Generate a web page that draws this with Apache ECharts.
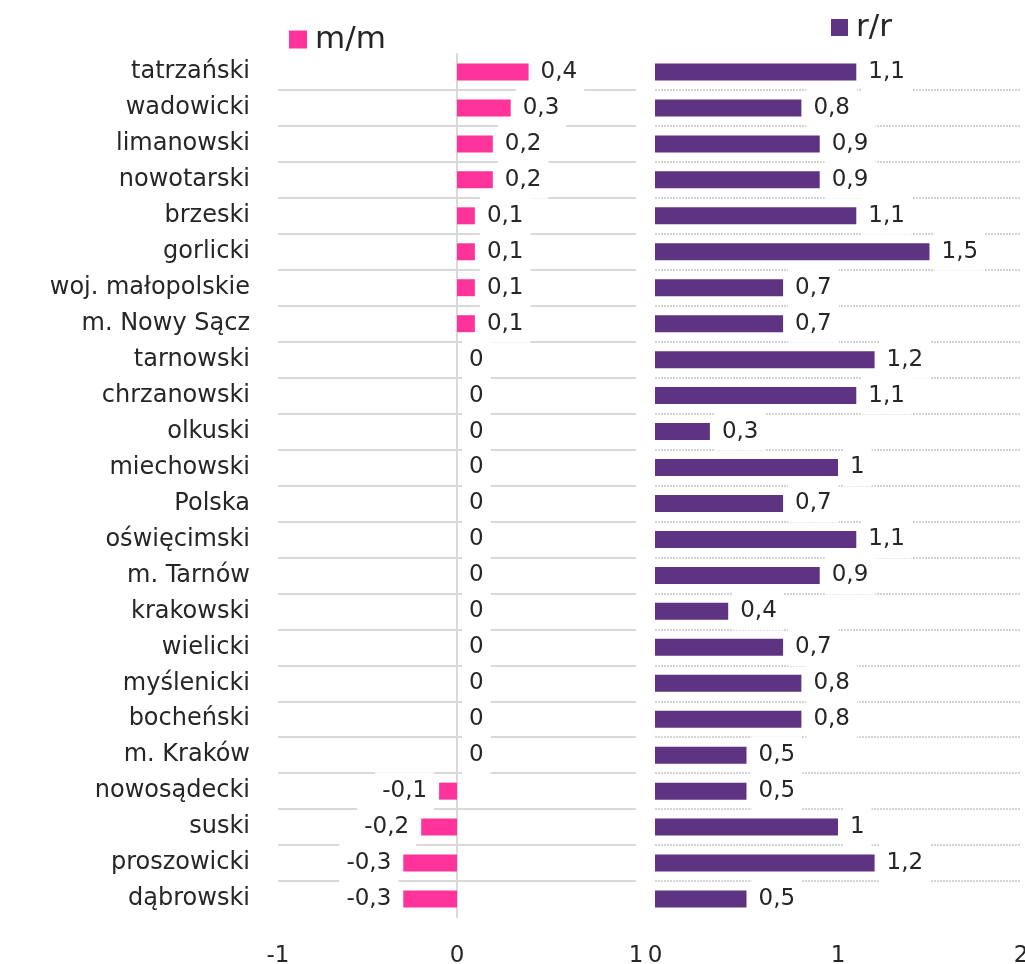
<!DOCTYPE html>
<html>
<head>
<meta charset="utf-8">
<script src="https://cdn.jsdelivr.net/npm/echarts@6/dist/echarts.min.js"></script>
<style>
  html, body { margin: 0; padding: 0; background: #fff; }
  #chart { width: 1025px; height: 964px; }
</style>
</head>
<body>
<div id="chart"></div>
<script>
const categories = [
  'tatrzański', 'wadowicki', 'limanowski', 'nowotarski', 'brzeski', 'gorlicki',
  'woj. małopolskie', 'm. Nowy Sącz', 'tarnowski', 'chrzanowski', 'olkuski',
  'miechowski', 'Polska', 'oświęcimski', 'm. Tarnów', 'krakowski', 'wielicki',
  'myślenicki', 'bocheński', 'm. Kraków', 'nowosądecki', 'suski', 'proszowicki',
  'dąbrowski'
]
const mmValues = [0.4, 0.3, 0.2, 0.2, 0.1, 0.1, 0.1, 0.1, 0, 0, 0, 0, 0, 0, 0, 0, 0, 0, 0, 0, -0.1, -0.2, -0.3, -0.3]
const rrValues = [1.1, 0.8, 0.9, 0.9, 1.1, 1.5, 0.7, 0.7, 1.2, 1.1, 0.3, 1, 0.7, 1.1, 0.9, 0.4, 0.7, 0.8, 0.8, 0.5, 0.5, 1, 1.2, 0.5]
const mmTicks = [-1, 0, 1]
const rrTicks = [0, 1, 2]

const font = 'DejaVu Sans'
const textColor = '#262626'
const pink = '#ff3399'
const purple = '#5e3381'

const fmt = (v) => String(v).replace('.', ',')

const valueLabel = {
  show: true,
  position: 'right',
  distance: 5,
  color: textColor,
  fontFamily: font,
  fontSize: 23,
  lineHeight: 22,
  padding: [8, 7],
  backgroundColor: '#fff',
  formatter: (p) => fmt(p.value)
}

const legendText = { fontFamily: font, fontSize: 31, color: textColor, padding: [0, 0, 0, 3] }
const tickLabel = { fontFamily: font, fontSize: 23, color: textColor, margin: 28 }

const chart = echarts.init(document.getElementById('chart'))
chart.setOption({
  animation: false,
  legend: [{
    data: ['m/m'],
    left: 289,
    top: 24,
    padding: 0,
    icon: 'rect',
    itemWidth: 18,
    itemHeight: 18,
    textStyle: legendText
  }, {
    data: ['r/r'],
    left: 831,
    top: 12,
    padding: 0,
    icon: 'rect',
    itemWidth: 17,
    itemHeight: 17,
    textStyle: legendText
  }],
  grid: [
    { left: 278, width: 358, top: 54, height: 863, outerBoundsMode: 'none' },
    { left: 655, width: 366, top: 54, height: 863, outerBoundsMode: 'none' }
  ],
  xAxis: [{
    gridIndex: 0,
    type: 'value',
    min: mmTicks[0],
    max: mmTicks[mmTicks.length - 1],
    interval: 1,
    axisLine: { show: false },
    axisTick: { show: false },
    splitLine: { show: false },
    axisLabel: tickLabel
  }, {
    gridIndex: 1,
    type: 'value',
    min: rrTicks[0],
    max: rrTicks[rrTicks.length - 1],
    interval: 1,
    axisLine: { show: false },
    axisTick: { show: false },
    splitLine: { show: false },
    axisLabel: tickLabel
  }],
  yAxis: [{
    gridIndex: 0,
    type: 'category',
    inverse: true,
    data: categories,
    axisTick: { show: false },
    axisLine: { show: true, onZero: true, lineStyle: { color: '#d9d9d9', width: 2 } },
    axisLabel: { fontFamily: font, fontSize: 24, color: textColor, margin: 28 },
    splitLine: {
      show: true,
      showMinLine: false,
      showMaxLine: false,
      lineStyle: { color: '#d9d9d9', width: 2 }
    }
  }, {
    gridIndex: 1,
    type: 'category',
    inverse: true,
    data: categories,
    axisTick: { show: false },
    axisLine: { show: false },
    axisLabel: { show: false },
    splitLine: {
      show: true,
      showMinLine: false,
      showMaxLine: false,
      lineStyle: { color: '#d4d4d4', width: 2, type: [2, 1] }
    }
  }],
  series: [{
    name: 'm/m',
    type: 'bar',
    xAxisIndex: 0,
    yAxisIndex: 0,
    barWidth: 17,
    itemStyle: { color: pink },
    label: valueLabel,
    data: mmValues.map((v) => v < 0 ? { value: v, label: { position: 'left' } } : v)
  }, {
    name: 'r/r',
    type: 'bar',
    xAxisIndex: 1,
    yAxisIndex: 1,
    barWidth: 17,
    itemStyle: { color: purple },
    label: valueLabel,
    data: rrValues
  }]
})
</script>
</body>
</html>
